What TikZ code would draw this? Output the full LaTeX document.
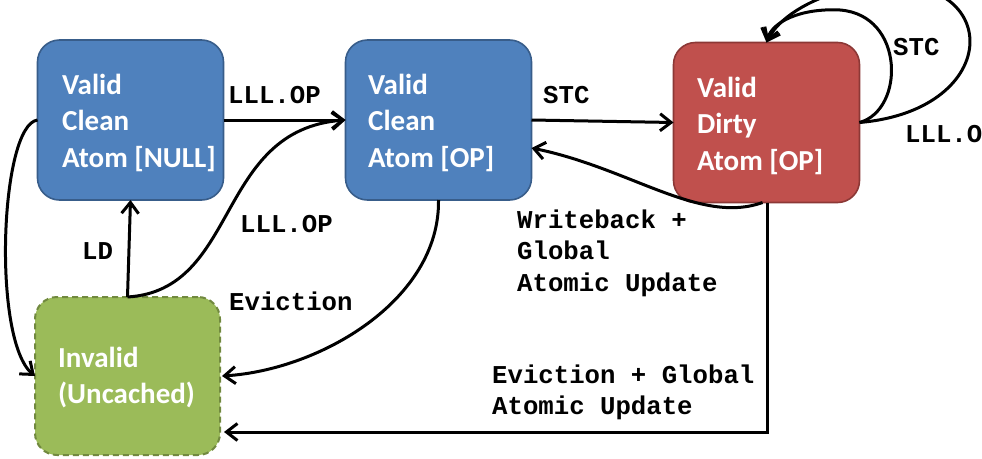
\documentclass[tikz,border=0pt]{standalone}
\usepackage[T1,TU]{fontenc}
\usepackage{fontspec}
\setmainfont{Carlito}
\IfFileExists{t1pcr.fd}{%
  \IfFileExists{pcrb8t.tfm}{%
    \newcommand\monofam{\fontencoding{T1}\fontfamily{pcr}\selectfont}}{%
    \newfontfamily\monofam{Liberation Mono}}}{%
  \newfontfamily\monofam{Liberation Mono}}
\usetikzlibrary{arrows.meta}
\definecolor{bluefill}{HTML}{4F81BD}
\definecolor{blueline}{HTML}{385D8A}
\definecolor{redfill}{HTML}{C0504D}
\definecolor{redline}{HTML}{8C3836}
\definecolor{greenfill}{HTML}{9BBB59}
\definecolor{greenline}{HTML}{71893F}
\begin{document}
\begin{tikzpicture}[x=1pt,y=-1pt,
  statebox/.style={line width=1.6pt, rounded corners=22pt, inner sep=0pt, outer sep=0pt,
    minimum width=186pt, minimum height=160pt},
  bluebox/.style={statebox, draw=blueline, fill=bluefill},
  redbox/.style={statebox, draw=redline, fill=redfill},
  greenbox/.style={statebox, draw=greenline, fill=greenfill, dash pattern=on 6pt off 4pt, line width=2pt, minimum width=185pt, minimum height=158pt},
  boxtext/.style={anchor=base west, inner sep=0pt, text=white, font=\fontsize{29}{36.5}\selectfont\bfseries},
  lbl/.style={anchor=base west, inner sep=0pt, font=\monofam\bfseries\fontsize{25.7}{31.5}\selectfont},
  conn/.style={line width=3pt, -{Straight Barb[length=11pt,width=17pt]}}
]
\clip (0,0) rectangle (982,458);
\fill[white] (0,0) rectangle (982,458);

% state boxes
\node[bluebox] (A) at (130.5,120) {};
\node[bluebox] (B) at (438.5,120) {};
\node[redbox] (C) at (766.5,122.5) {};
\node[greenbox] (D) at (127.5,376) {};

% box texts
\node[boxtext] (tA) at (62,94) {\begin{tabular}[t]{@{}l@{}}Valid\\Clean\\Atom [NULL]\end{tabular}};
\node[boxtext] (tB) at (368,94) {\begin{tabular}[t]{@{}l@{}}Valid\\Clean\\Atom [OP]\end{tabular}};
\node[boxtext] (tC) at (697,97) {\begin{tabular}[t]{@{}l@{}}Valid\\Dirty\\Atom [OP]\end{tabular}};
\node[boxtext] (tD) at (58,367) {\begin{tabular}[t]{@{}l@{}}Invalid\\(Uncached)\end{tabular}};

% connectors
\draw[conn] (A.east) -- (B.west);
\draw[conn] (B.east) -- (C.west);
\draw[conn] ([xshift=-4pt]C.south) .. controls (700,225) and (630,168) .. ([yshift=-28pt]B.east);
\draw[conn] (C.east) .. controls (905,110) and (905,15) .. (840,10) .. controls (800,8) and (772,22) .. (C.north);
\draw[conn] (C.east) .. controls (1005,110) and (1005,-30) .. (870,-15) .. controls (820,-8) and (780,15) .. (C.north);
\draw[conn] (A.west) .. controls (0,125) and (-8,340) .. (D.west);
\draw[conn] (D.north) -- (A.south);
\draw[conn] (D.north) .. controls (240,290) and (215,130) .. (B.west);
\draw[conn] (B.south) .. controls (440,300) and (320,370) .. ([xshift=2pt]D.east);
\draw[conn] ([xshift=1pt]C.south) |- ([xshift=4pt,yshift=-56pt]D.east);

% labels
\node[lbl] (l1) at (228,103) {LLL.OP};
\node[lbl] (l2) at (543,103) {STC};
\node[lbl] (l3) at (893,55) {STC};
\node[lbl] (l4) at (905,142) {LLL.O};
\node[lbl] (l5) at (240,232) {LLL.OP};
\node[lbl] (l6) at (82,259) {LD};
\node[lbl] (l7) at (229,310) {Eviction};
\node[lbl] (l8) at (517,228) {\begin{tabular}[t]{@{}l@{}}Writeback +\\Global\\Atomic Update\end{tabular}};
\node[lbl] (l9) at (492,383) {\begin{tabular}[t]{@{}l@{}}Eviction + Global\\Atomic Update\end{tabular}};
\end{tikzpicture}
\end{document}
